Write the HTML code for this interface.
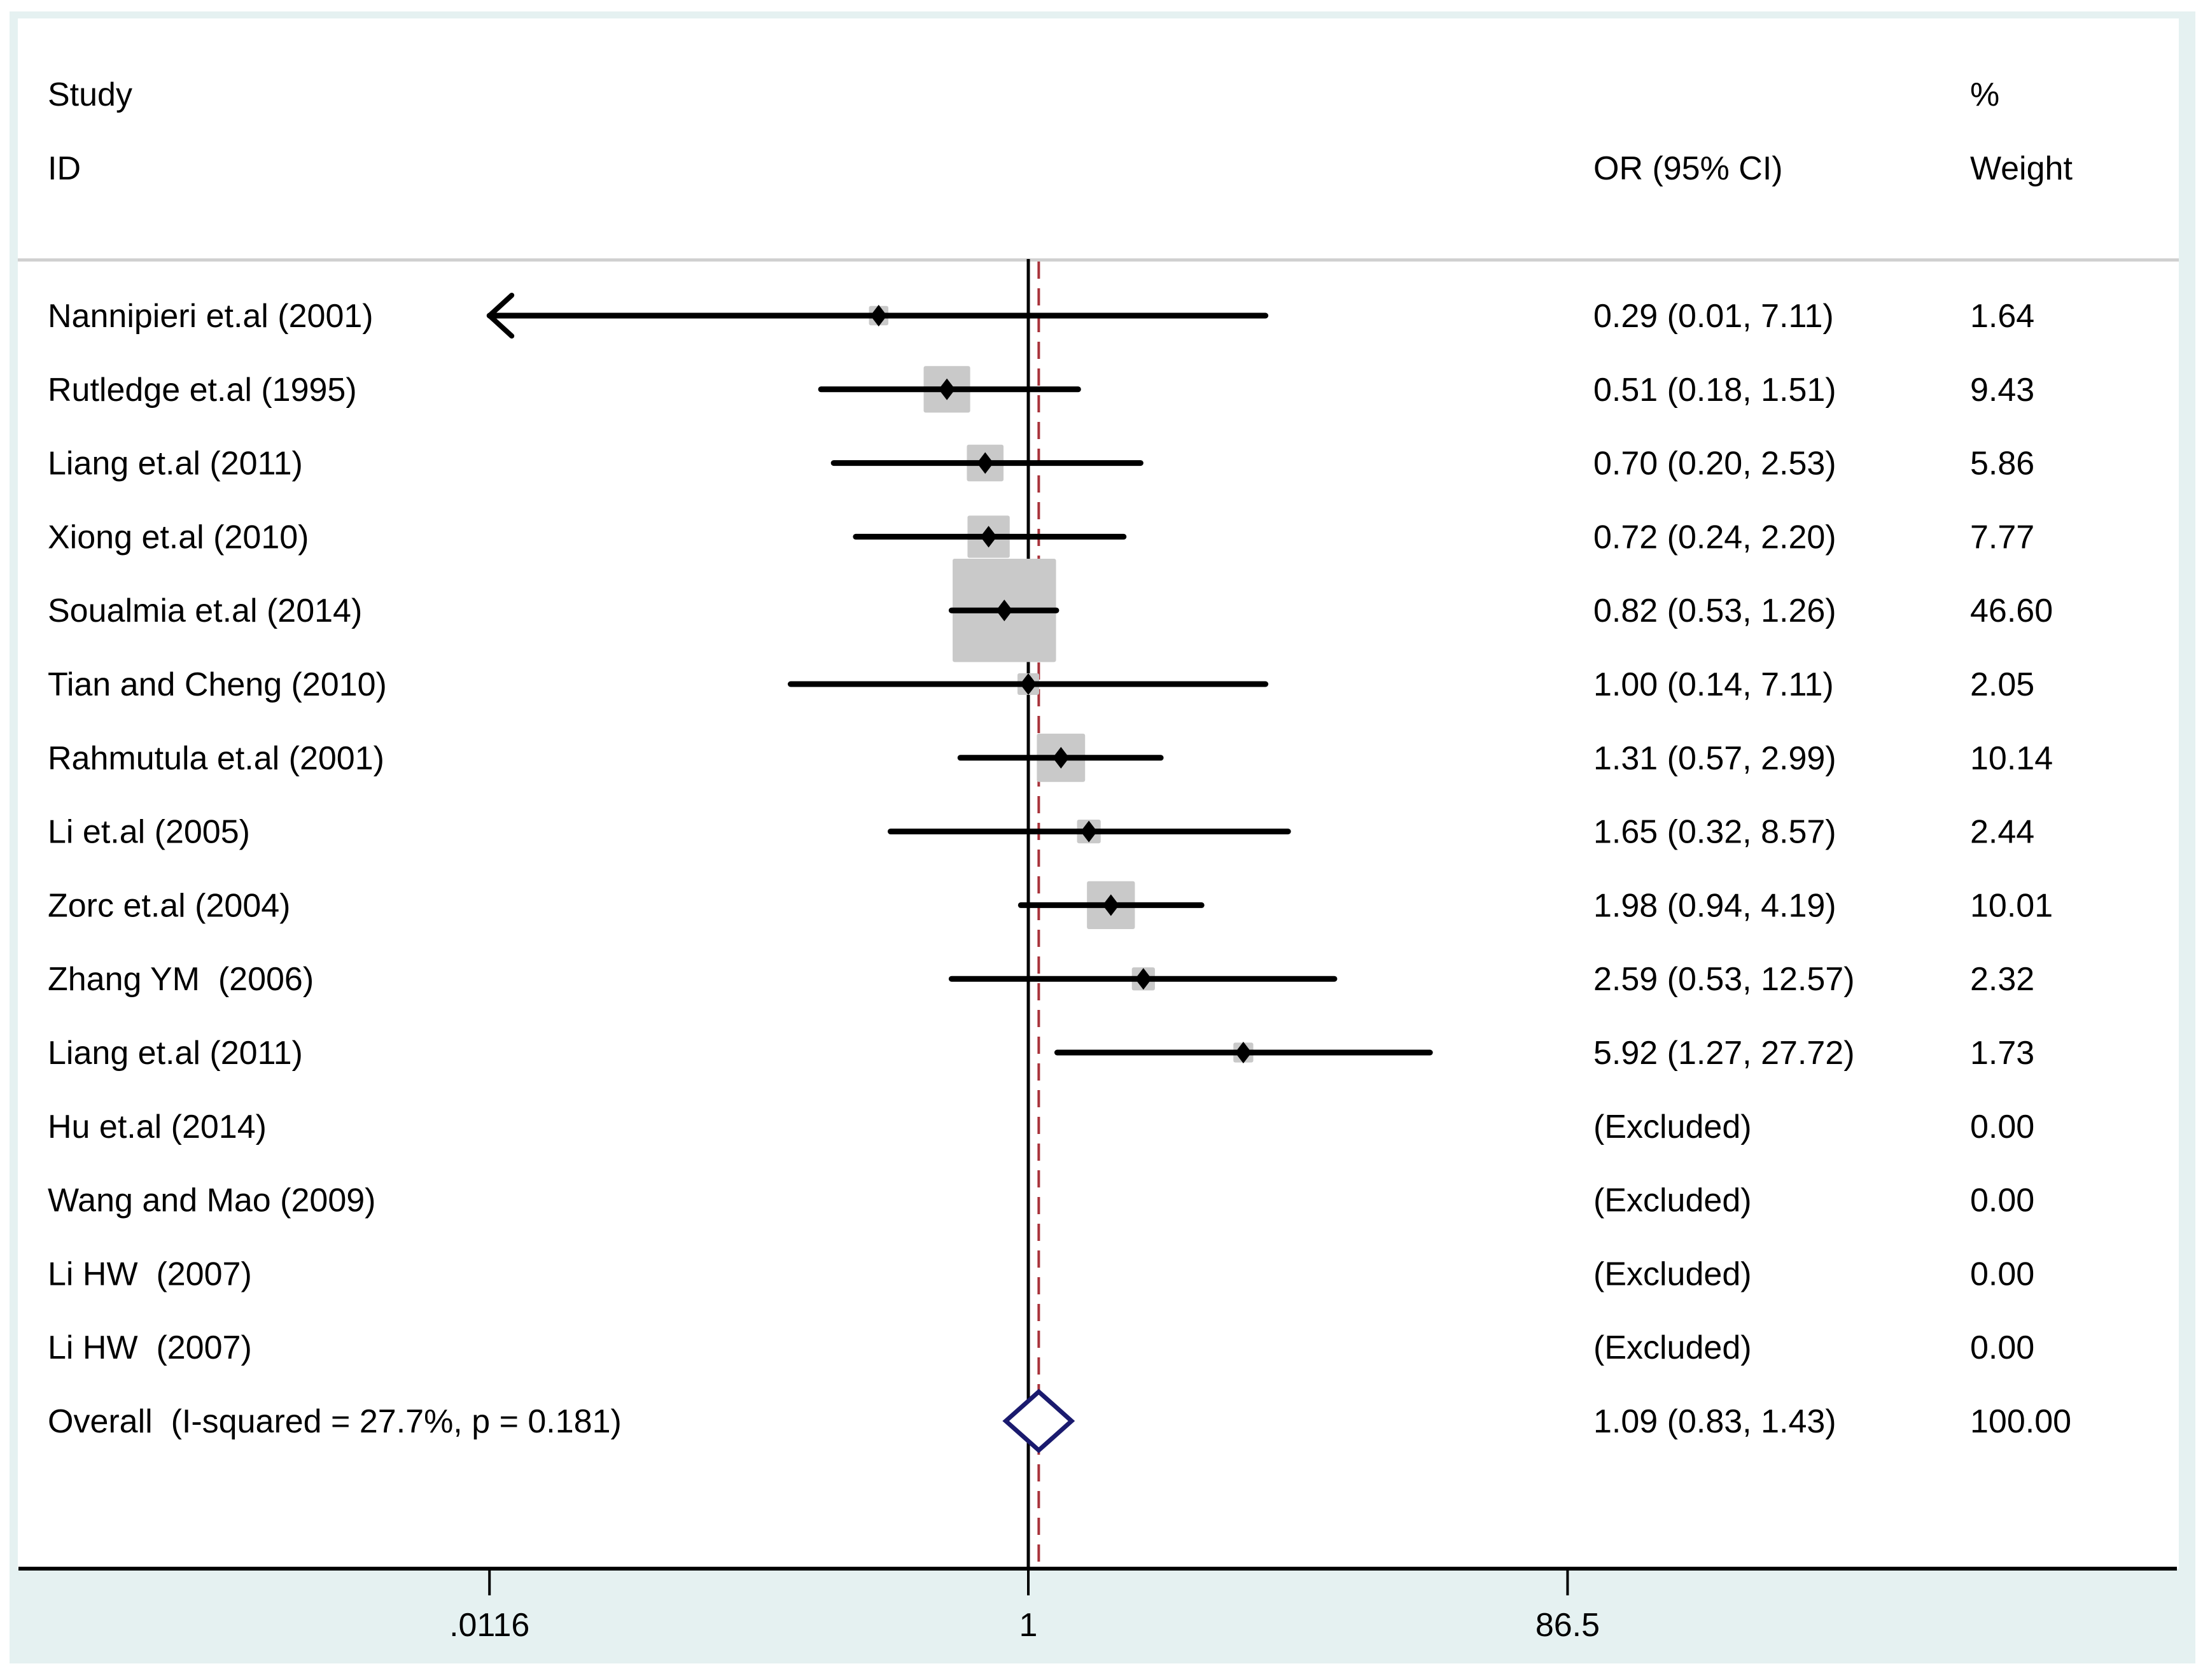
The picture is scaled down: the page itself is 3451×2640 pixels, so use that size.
<!DOCTYPE html>
<html><head><meta charset="utf-8"><style>
html,body{margin:0;padding:0;background:#fff}
svg{display:block}
text{font-family:"Liberation Sans",Arial,sans-serif;font-size:52px;fill:#000;white-space:pre}
</style></head><body>
<svg id="chart" width="3451" height="2640" xmlns="http://www.w3.org/2000/svg" xml:space="preserve">
<rect x="15" y="18" width="3435" height="2596" fill="#e5f1f1"/>
<rect x="28" y="29" width="3396" height="2436" fill="#ffffff"/>
<rect x="28" y="406" width="3396" height="5" fill="#d0d0d0"/>
<text x="75" y="166">Study</text>
<text x="75" y="282">ID</text>
<text x="2504" y="282">OR (95% CI)</text>
<text x="3096" y="166">%</text>
<text x="3096" y="282">Weight</text>
<g id="marks"></g>
</svg>
<script>
const studies=["Nannipieri et.al (2001)","Rutledge et.al (1995)","Liang et.al (2011)","Xiong et.al (2010)","Soualmia et.al (2014)","Tian and Cheng (2010)","Rahmutula et.al (2001)","Li et.al (2005)","Zorc et.al (2004)","Zhang YM  (2006)","Liang et.al (2011)","Hu et.al (2014)","Wang and Mao (2009)","Li HW  (2007)","Li HW  (2007)"];
const orValues=[0.29,0.51,0.70,0.72,0.82,1.00,1.31,1.65,1.98,2.59,5.92,null,null,null,null];
const lowerCI=[0.01,0.18,0.20,0.24,0.53,0.14,0.57,0.32,0.94,0.53,1.27,null,null,null,null];
const upperCI=[7.11,1.51,2.53,2.20,1.26,7.11,2.99,8.57,4.19,12.57,27.72,null,null,null,null];
const weights=[1.64,9.43,5.86,7.77,46.60,2.05,10.14,2.44,10.01,2.32,1.73,0.00,0.00,0.00,0.00];
const overall=[1.09,0.83,1.43];
const overallLabel="Overall  (I-squared = 27.7%, p = 0.181)";
const tickValues=[0.0116,1,86.5];
const tickLabels=[".0116","1","86.5"];

const NS="http://www.w3.org/2000/svg";
const g=document.getElementById('marks');
const X0=1616, K=190, XMIN=0.0116, XMAX=86.5;
function xs(v){return X0+K*Math.log(v);}
function ys(i){return 496+115.8*i;}
function mk(tag,attrs,parent){const e=document.createElementNS(NS,tag);for(const k in attrs)e.setAttribute(k,attrs[k]);(parent||g).appendChild(e);return e;}
function f2(v){return v.toFixed(2);}

let ln=mk('line',{x1:X0,x2:X0,y1:407,y2:2465,stroke:'#000','stroke-width':5});


let rl=mk('line',{x1:xs(overall[0]),x2:xs(overall[0]),y1:411,y2:2462,stroke:'#a8323a','stroke-width':4,'stroke-dasharray':'27 15'});



studies.forEach((s,i)=>{
  const y=ys(i);
  const t=mk('text',{x:75,y:y+18}); t.textContent=s;
  
  
  const o=mk('text',{x:2504,y:y+18});
  o.textContent= orValues[i]==null?'(Excluded)':`${f2(orValues[i])} (${f2(lowerCI[i])}, ${f2(upperCI[i])})`;
  
  
  const w=mk('text',{x:3096,y:y+18}); w.textContent=f2(weights[i]);
  
  
  if(orValues[i]==null) return;
  const side=23.8*Math.sqrt(weights[i]);
  const cx=xs(orValues[i]);
  const b=mk('rect',{x:cx-side/2,y:y-side/2,width:side,height:side,fill:'#c9c9c9',rx:3});
  
  
  const lo=Math.max(lowerCI[i],XMIN), hi=Math.min(upperCI[i],XMAX);
  const l=mk('line',{x1:xs(lo),x2:xs(hi),y1:y,y2:y,stroke:'#000','stroke-width':9,'stroke-linecap':'round'});
  
  
  if(lowerCI[i]<XMIN){
    const a=mk('polyline',{points:`${xs(XMIN)+35},${y-32} ${xs(XMIN)},${y} ${xs(XMIN)+35},${y+32}`,fill:'none',stroke:'#000','stroke-width':8,'stroke-linecap':'round','stroke-linejoin':'round'});
    
    
  }
  const d=mk('polygon',{points:`${cx},${y-17} ${cx+13},${y} ${cx},${y+17} ${cx-13},${y}`,fill:'#000'});
  
  
});

const oy=ys(studies.length);
const ot=mk('text',{x:75,y:oy+18}); ot.textContent=overallLabel;


const oo=mk('text',{x:2504,y:oy+18}); oo.textContent=`${f2(overall[0])} (${f2(overall[1])}, ${f2(overall[2])})`;


const ow=mk('text',{x:3096,y:oy+18}); ow.textContent='100.00';


const od=mk('polygon',{points:`${xs(overall[1])},${oy} ${xs(overall[0])},${oy-46} ${xs(overall[2])},${oy} ${xs(overall[0])},${oy+46}`,fill:'#fff',stroke:'#1a1a6e','stroke-width':7});



const ax=mk('rect',{x:29,y:2462,width:3392,height:6,fill:'#000'});


tickValues.forEach((v,i)=>{
  const tk=mk('line',{x1:xs(v),x2:xs(v),y1:2465,y2:2507,stroke:'#000','stroke-width':4});
  
  
  const tl=mk('text',{x:xs(v),y:2571,'text-anchor':'middle'}); tl.textContent=tickLabels[i];
  
  
});
</script>
</body></html>
